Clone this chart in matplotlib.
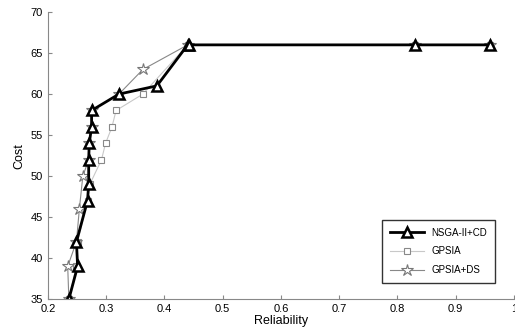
import numpy as np
import matplotlib
matplotlib.use("Agg")
import matplotlib.pyplot as plt

plt.rcParams['font.family'] = ['Liberation Sans', 'DejaVu Sans']

# NSGA-II+CD
nsga_x = [0.236, 0.251, 0.249, 0.268, 0.270, 0.270, 0.271, 0.275, 0.275, 0.322, 0.387, 0.440, 0.443, 0.830, 0.958]
nsga_y = [35, 39, 42, 47, 49, 52, 54, 56, 58, 60, 61, 66, 66, 66, 66]

# GPSIA
gpsia_x = [0.236, 0.249, 0.251, 0.268, 0.272, 0.292, 0.299, 0.310, 0.317, 0.363, 0.440, 0.830, 0.958]
gpsia_y = [35, 39, 42, 47, 49, 52, 54, 56, 58, 60, 66, 66, 66]

# GPSIA+DS
ds_x = [0.236, 0.234, 0.249, 0.254, 0.260, 0.270, 0.271, 0.275, 0.275, 0.322, 0.363, 0.440, 0.830, 0.958]
ds_y = [35, 39, 42, 46, 50, 52, 54, 56, 58, 60, 63, 66, 66, 66]

fig = plt.figure(figsize=(5.15, 3.35), dpi=100)
ax = fig.add_axes([0.093, 0.107, 0.905, 0.857])

ax.plot(gpsia_x, gpsia_y, color='#c8c8c8', lw=0.8, marker='s', markersize=5,
        markerfacecolor='white', markeredgecolor='#888888', markeredgewidth=0.8, label='GPSIA')
ax.plot(ds_x, ds_y, color='#888888', lw=0.8, marker='*', markersize=9,
        markerfacecolor='white', markeredgecolor='#777777', markeredgewidth=0.8, label='GPSIA+DS')
ax.plot(nsga_x, nsga_y, color='black', lw=2, marker='^', markersize=7,
        markerfacecolor='white', markeredgecolor='black', markeredgewidth=1.8, label='NSGA-II+CD')

ax.set_xlim(0.2, 1.0)
ax.set_ylim(35, 70)
ax.set_xticks(np.arange(0.2, 1.01, 0.1))
ax.set_xticklabels(['0.2', '0.3', '0.4', '0.5', '0.6', '0.7', '0.8', '0.9', '1'])
ax.set_yticks(range(35, 71, 5))
ax.tick_params(direction='in', length=3, labelsize=8, color='#888888')
for s in ['top', 'right']:
    ax.spines[s].set_visible(False)
for s in ['left', 'bottom']:
    ax.spines[s].set_color('#888888')

ax.set_xlabel('Reliability', fontsize=9, labelpad=1)
ax.set_ylabel('Cost', fontsize=9, labelpad=4)

h, l = ax.get_legend_handles_labels()
order = [2, 0, 1]
leg = ax.legend([h[i] for i in order], [l[i] for i in order], loc='lower right',
                bbox_to_anchor=(0.97, 0.04), fontsize=7, frameon=True, fancybox=False,
                edgecolor='black', handlelength=3.5, borderpad=0.8, labelspacing=0.9)
leg.get_frame().set_linewidth(1.0)

fig.savefig('out.png', dpi=100)
